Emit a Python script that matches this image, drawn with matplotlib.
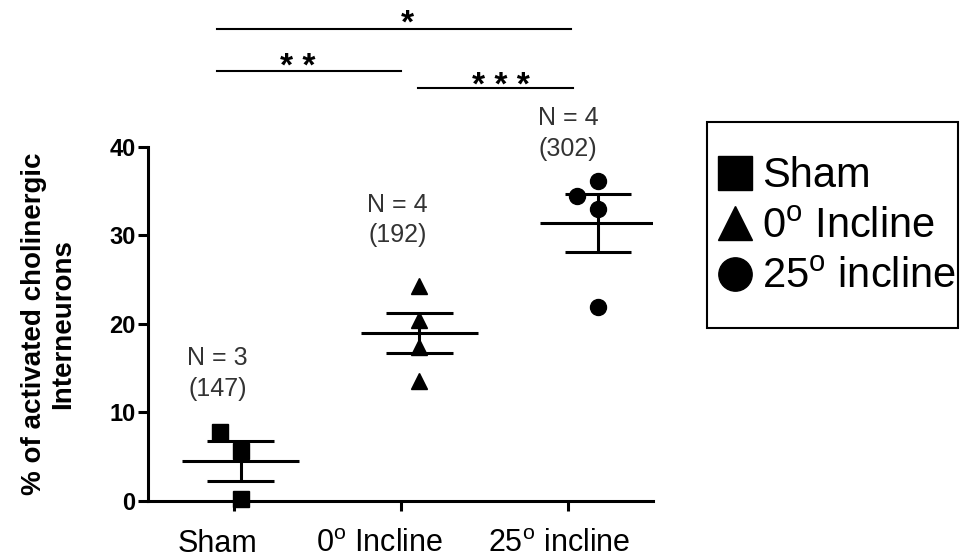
import matplotlib
matplotlib.use("Agg")
import matplotlib.pyplot as plt
from matplotlib.lines import Line2D
from matplotlib.patches import Rectangle
import numpy as np

plt.rcParams["font.family"] = ["Liberation Sans", "DejaVu Sans"]
plt.rcParams["mathtext.fontset"] = "custom"
plt.rcParams["mathtext.rm"] = "Liberation Sans"

# Data (% activated cholinergic interneurons per animal)
group_names = ["Sham", "0$^{\\mathrm{o}}$ Incline", "25$^{\\mathrm{o}}$ incline"]
sham = [7.8, 5.7, 0.2]
incline_0 = [24.3, 20.5, 17.4, 13.6]
incline_25 = [36.2, 34.5, 33.0, 21.9]
n_animals = [3, 4, 4]
n_cells = [147, 192, 302]
sig_labels = ["*", "* *", "* * *"]

# Layout / style
markers = ["s", "^", "o"]
marker_sizes = [11, 12, 11.5]
jitter = [[-0.125, 0, 0], [0, 0, 0, 0], [0, -0.125, 0, 0]]
group_x = [0.04, 1.11, 2.18]
label_x = [-0.1, 0.87, 1.95]
n_text_x = [-0.1, 0.98, 2.0]
n_text_y = [14.4, 31.75, 41.55]
# (x start, x end, y, star x, star baseline drop)
sig_bars = [(-0.1, 2.02, 53.3, 1.04, 0.35), (-0.1, 1.0, 48.6, 0.38, 0.57),
            (1.1, 2.03, 46.7, 1.6, 0.78)]

fig = plt.figure(figsize=(9.62, 5.6), dpi=100)
ax = fig.add_axes([0.1538, 0.1054, 0.525, 0.6321])

lw = 2.2
for i, vals in enumerate([sham, incline_0, incline_25]):
    vals = np.array(vals)
    xc = group_x[i]
    mean = vals.mean()
    sem = vals.std(ddof=1) / np.sqrt(len(vals))
    ax.plot(xc + np.array(jitter[i]), vals, ls="none", marker=markers[i],
            ms=marker_sizes[i], color="black", clip_on=False, zorder=3)
    ax.hlines(mean, xc - 0.35, xc + 0.35, color="black", lw=lw, zorder=4)
    ax.hlines([mean - sem, mean + sem], xc - 0.2, xc + 0.2, color="black", lw=lw, zorder=4)
    ax.vlines(xc, mean - sem, mean + sem, color="black", lw=lw, zorder=4)
    ax.text(n_text_x[i], n_text_y[i], f"N = {n_animals[i]}\n({n_cells[i]})",
            ha="center", va="center", fontsize=18, color="#333333", linespacing=1.35)

# significance bars above the axes
for (x0, x1, y, xs, drop), lab in zip(sig_bars, sig_labels):
    ax.plot([x0, x1], [y, y], color="black", lw=1.5, clip_on=False)
    ax.text(xs, y - drop, lab, ha="center", va="baseline", fontsize=24, fontweight="bold")

ax.set_xlim(-0.515, 2.509)
ax.set_ylim(0, 40)
for s in ["top", "right"]:
    ax.spines[s].set_visible(False)
ax.spines["left"].set_bounds(0, 40)
ax.spines["left"].set_linewidth(lw)
ax.spines["bottom"].set_linewidth(lw)

ax.set_xticks([0, 1, 2], [])
ax.set_xticks(label_x, group_names, minor=True)
ax.tick_params(axis="x", which="major", length=7, width=lw, direction="out")
ax.tick_params(axis="x", which="minor", length=0, pad=20, labelsize=22)

ax.set_yticks([0, 10, 20, 30, 40])
ax.tick_params(axis="y", length=7, width=lw, pad=2, labelsize=17)
for lbl in ax.get_yticklabels():
    lbl.set_fontweight("bold")

ax.set_ylabel("% of activated cholinergic\nInterneurons", fontsize=20,
              fontweight="bold", labelpad=24, linespacing=1.15)

# legend with square frame
handles = [Line2D([], [], ls="none", marker=m, ms=24, color="black") for m in markers]
fig.legend(handles, group_names, loc="center left", bbox_to_anchor=(0.747, 0.595),
           frameon=False, fontsize=30, handlelength=0.8, handletextpad=0.25,
           borderpad=0, labelspacing=0.25, borderaxespad=0)
fig.add_artist(Rectangle((0.735, 0.4143), 0.261, 0.368, transform=fig.transFigure,
                         fill=False, lw=1.5, ec="black"))

fig.savefig("out.png", dpi=100)
